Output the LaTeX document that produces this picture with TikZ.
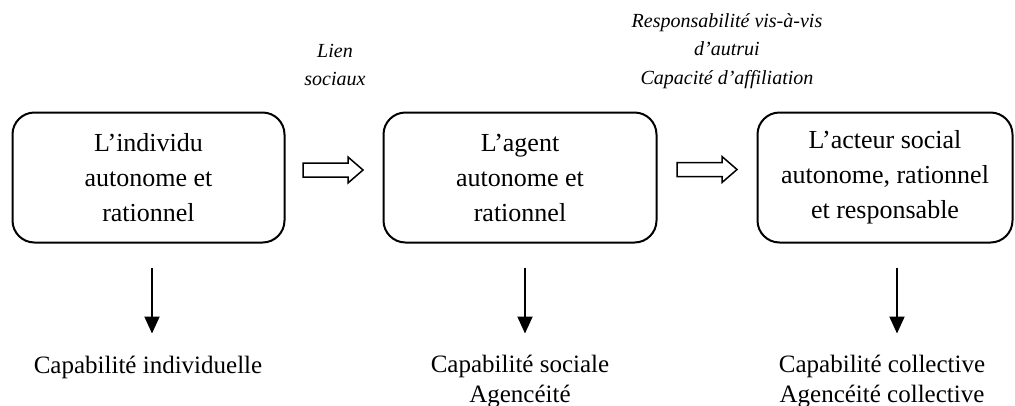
\documentclass[tikz,border=0pt]{standalone}
\usepackage{fontspec}
\setmainfont{Liberation Serif}
\usetikzlibrary{arrows.meta}
\begin{document}
\begin{tikzpicture}[x=1pt,y=-1pt,
 box/.style={draw, line width=2pt, rounded corners=22pt, align=center, inner sep=0pt, minimum height=130pt, font=\fontsize{26}{35}\selectfont},
 lab/.style={align=center, inner sep=0pt, font=\fontsize{25}{30}\selectfont},
 itl/.style={align=center, inner sep=0pt, font=\fontsize{20}{28.5}\selectfont\itshape},
 down/.style={line width=2pt, -{Triangle[width=15pt,length=17pt]}},
 hollow/.style={draw, line width=1.5pt, line join=miter}]
\useasboundingbox (0,0) rectangle (1015,405);
% boxes
\node[box, minimum width=272pt] (b1) at (148.5,177.5) {L’individu\\autonome et\\rationnel};
\node[box, minimum width=273pt] (b2) at (520,177.5) {L’agent\\autonome et\\rationnel};
\node[box, minimum width=255pt] (b3) at (885,177.5) {L’acteur social\\autonome, rationnel\\et responsable};
% italic labels
\node[itl] (t1) at (335,65) {Lien\\sociaux};
\node[itl] (t2) at (727,51) {Responsabilité vis-à-vis\\d’autrui\\Capacité d’affiliation};
% bottom labels
\node[lab, anchor=base] (l1) at (148,373) {Capabilité individuelle};
\node[lab] (l2) at (520,381) {Capabilité sociale\\Agencéité};
\node[lab] (l3) at (882,381) {Capabilité collective\\Agencéité collective};
% hollow arrows
\coordinate (h1) at (303,170);
\coordinate (h2) at (677,169.5);
\draw[hollow] (h1) ++(0,-7) -- ++(45,0) -- ++(0,-6) -- ++(15,13) -- ++(-15,13) -- ++(0,-6) -- ++(-45,0) -- cycle;
\draw[hollow] (h2) ++(0,-7) -- ++(45,0) -- ++(0,-6) -- ++(15,13) -- ++(-15,13) -- ++(0,-6) -- ++(-45,0) -- cycle;
% down arrows
\draw[down] ([xshift=3.5pt,yshift=-24pt]b1.south) -- ++(0,66);
\draw[down] ([xshift=5pt,yshift=-24pt]b2.south) -- ++(0,66);
\draw[down] ([xshift=12pt,yshift=-24pt]b3.south) -- ++(0,66);
\end{tikzpicture}
\end{document}
